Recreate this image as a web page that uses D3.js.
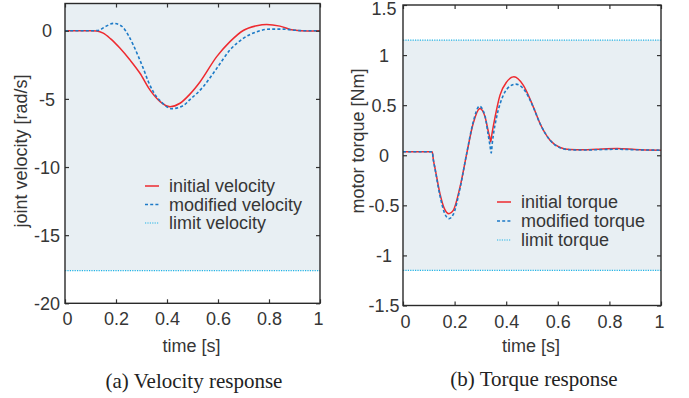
<!DOCTYPE html>
<html>
<head>
<meta charset="utf-8">
<script src="https://cdn.jsdelivr.net/npm/d3@7"></script>
<style>
  html, body { margin: 0; padding: 0; background: #fff; }
  svg { display: block; }
  .tick text { font-family: "Liberation Sans", Arial, sans-serif; font-size: 18px; fill: #363636; }
  .lbl { font-family: "Liberation Sans", Arial, sans-serif; font-size: 18px; fill: #363636; }
  .cap { font-family: "Liberation Serif", "Times New Roman", serif; font-size: 21px; fill: #222; }
</style>
</head>
<body>
<svg id="chart" width="689" height="398"></svg>
<script>
// ---- time axis (shared) ----
const timeTicks = [0, 0.2, 0.4, 0.6, 0.8, 1];

// ---- velocity response ----
const velTicks = [-20, -15, -10, -5, 0];
const velLimit = -17.6;
const velInitT = [0, 0.05, 0.10, 0.125, 0.15, 0.178, 0.216, 0.255, 0.294, 0.333, 0.373, 0.412, 0.451, 0.49, 0.53, 0.595, 0.647, 0.699, 0.752, 0.791, 0.843, 0.895, 0.95, 1.0];
const velInitV = [0, 0, 0, -0.02, -0.18, -0.58, -1.29, -2.15, -3.12, -4.34, -5.2, -5.57, -5.32, -4.65, -3.74, -1.9, -0.8, 0.02, 0.37, 0.46, 0.34, 0.05, -0.02, 0];
const velModT = [0, 0.05, 0.10, 0.13, 0.157, 0.19, 0.222, 0.248, 0.268, 0.288, 0.307, 0.327, 0.346, 0.379, 0.418, 0.464, 0.49, 0.516, 0.542, 0.595, 0.647, 0.699, 0.752, 0.804, 0.856, 0.908, 0.95, 1.0];
const velModV = [0, 0, 0, 0.02, 0.29, 0.54, 0.34, -0.32, -1.05, -1.9, -2.76, -3.74, -4.47, -5.25, -5.72, -5.49, -5.05, -4.62, -4.1, -2.76, -1.41, -0.56, -0.07, 0.12, 0.12, 0.03, 0, 0];

// ---- torque response ----
const torTicks = [-1.5, -1, -0.5, 0, 0.5, 1, 1.5];
const torTickLabels = ["-1.5", "-1", "-0.5", "0", "0.5", "1", "1.5"];
const torLimit = 1.15;
const torInitT = [0, 0.05, 0.113, 0.118, 0.125, 0.143, 0.16, 0.178, 0.195, 0.221, 0.247, 0.272, 0.298, 0.318, 0.331, 0.336, 0.340, 0.344, 0.357, 0.376, 0.402, 0.430, 0.466, 0.505, 0.531, 0.570, 0.609, 0.647, 0.70, 0.75, 0.83, 0.90, 1.0];
const torInitV = [0.035, 0.035, 0.035, -0.05, -0.14, -0.38, -0.53, -0.583, -0.55, -0.317, 0.017, 0.317, 0.467, 0.383, 0.233, 0.18, 0.133, 0.2, 0.383, 0.6, 0.733, 0.783, 0.7, 0.483, 0.317, 0.15, 0.077, 0.057, 0.055, 0.06, 0.067, 0.058, 0.05];
const torModT = [0, 0.05, 0.113, 0.118, 0.125, 0.143, 0.16, 0.178, 0.195, 0.221, 0.247, 0.272, 0.296, 0.318, 0.331, 0.337, 0.342, 0.346, 0.35, 0.363, 0.389, 0.415, 0.437, 0.466, 0.505, 0.531, 0.570, 0.609, 0.647, 0.70, 0.75, 0.83, 0.90, 1.0];
const torModV = [0.035, 0.035, 0.035, -0.05, -0.15, -0.4, -0.57, -0.633, -0.59, -0.33, 0.02, 0.33, 0.49, 0.39, 0.19, 0.1, 0.023, 0.12, 0.2, 0.383, 0.6, 0.69, 0.71, 0.667, 0.48, 0.317, 0.15, 0.075, 0.055, 0.052, 0.055, 0.06, 0.055, 0.05];

const C_INIT = "#ee2a2f", C_MOD = "#1c7ac7", C_LIM = "#22b4e6", C_BG = "#e8eff3";

const svg = d3.select("#chart");

function panel(o) {
  const x = d3.scaleLinear().domain([0, 1]).range([o.x0, o.x1]);
  const y = d3.scaleLinear().domain(o.yDomain).range([o.y1, o.y0]);
  const g = svg.append("g");

  // shaded admissible band
  g.append("rect")
    .attr("x", x(0)).attr("width", x(1) - x(0))
    .attr("y", y(o.bandTop)).attr("height", y(o.bandBottom) - y(o.bandTop))
    .attr("fill", C_BG);

  // limit lines
  o.limits.forEach(v => {
    g.append("line")
      .attr("x1", x(0)).attr("x2", x(1)).attr("y1", y(v)).attr("y2", y(v))
      .attr("stroke", C_LIM).attr("stroke-width", 1.2).attr("stroke-dasharray", "1.2,1.2");
  });

  const line = d3.line().x(d => x(d[0])).y(d => y(d[1])).curve(d3.curveMonotoneX);
  g.append("path").datum(d3.zip(o.initT, o.initV)).attr("d", line)
    .attr("fill", "none").attr("stroke", C_INIT).attr("stroke-width", 1.5);
  g.append("path").datum(d3.zip(o.modT, o.modV)).attr("d", line)
    .attr("fill", "none").attr("stroke", C_MOD).attr("stroke-width", 1.6).attr("stroke-dasharray", "3,2.2");

  // axes with inward ticks on all sides
  const ax = g.append("g").attr("transform", `translate(0,${o.y1})`)
    .call(d3.axisBottom(x).tickValues(timeTicks).tickSize(-4).tickFormat(d3.format("")));
  ax.selectAll("text").attr("y", 22).attr("dy", 0)
    .attr("dx", d => d === 0 ? 2 : (d === 1 ? -2 : 0));
  g.append("g").attr("transform", `translate(0,${o.y0})`)
    .call(d3.axisTop(x).tickValues(timeTicks).tickSize(-4).tickFormat(""));
  const ay = g.append("g").attr("transform", `translate(${o.x0},0)`)
    .call(d3.axisLeft(y).tickValues(o.yTicks).tickSize(-4).tickFormat((d, i) => o.yLabels[i]));
  ay.selectAll("text").attr("x", -o.yLabelOffset).attr("text-anchor", "middle")
    .attr("dy", d => d === o.yDomain[1] ? "0.5em" : "0.34em");
  g.append("g").attr("transform", `translate(${o.x1},0)`)
    .call(d3.axisRight(y).tickValues(o.yTicks).tickSize(-4).tickFormat(""));
  g.selectAll(".domain").remove();
  g.selectAll(".tick line").attr("stroke", "#333").attr("stroke-width", 1.2);

  // frame
  g.append("rect").attr("x", o.x0).attr("y", o.y0)
    .attr("width", o.x1 - o.x0).attr("height", o.y1 - o.y0)
    .attr("fill", "none").attr("stroke", "#2a2a2a").attr("stroke-width", 1.4);

  // axis titles
  g.append("text").attr("class", "lbl").attr("text-anchor", "middle")
    .attr("x", (o.x0 + o.x1) / 2 - 1).attr("y", 352).text("time [s]");
  g.append("text").attr("class", "lbl").attr("text-anchor", "middle")
    .attr("transform", `translate(${o.yTitleX},${o.yTitleY}) rotate(-90)`).text(o.yTitle);

  // legend
  const lg = g.append("g");
  const styles = [
    { c: C_INIT, w: 1.5, dash: null },
    { c: C_MOD, w: 1.6, dash: "3,2.2" },
    { c: C_LIM, w: 1.2, dash: "1.2,1.2" }
  ];
  o.legend.forEach((t, i) => {
    const yy = o.legY + i * o.legStep;
    lg.append("line").attr("x1", o.legX).attr("x2", o.legX + 14).attr("y1", yy).attr("y2", yy)
      .attr("stroke", styles[i].c).attr("stroke-width", styles[i].w)
      .attr("stroke-dasharray", styles[i].dash);
    lg.append("text").attr("class", "lbl").attr("x", o.legX + 24).attr("y", yy).attr("dy", "0.35em").text(t);
  });

  // caption
  svg.append("text").attr("class", "cap").attr("text-anchor", "middle")
    .attr("x", o.capX).attr("y", o.capY).text(o.caption);
}

panel({
  x0: 65, x1: 320, y0: 3.5, y1: 303.3,
  yDomain: [-20, 2], yTicks: velTicks, yLabels: velTicks.map(String), yLabelOffset: 18,
  bandTop: 2, bandBottom: velLimit, limits: [velLimit],
  initT: velInitT, initV: velInitV, modT: velModT, modV: velModV,
  yTitle: "joint velocity [rad/s]", yTitleX: 27, yTitleY: 151,
  legend: ["initial velocity", "modified velocity", "limit velocity"], legX: 145, legY: 186, legStep: 18.5,
  caption: "(a) Velocity response", capX: 194, capY: 388
});

panel({
  x0: 403, x1: 661, y0: 5, y1: 305.5,
  yDomain: [-1.5, 1.5], yTicks: torTicks, yLabels: torTickLabels, yLabelOffset: 19,
  bandTop: torLimit, bandBottom: -torLimit, limits: [torLimit, -torLimit],
  initT: torInitT, initV: torInitV, modT: torModT, modV: torModV,
  yTitle: "motor torque [Nm]", yTitleX: 364, yTitleY: 141,
  legend: ["initial torque", "modified torque", "limit torque"], legX: 497, legY: 202, legStep: 19,
  caption: "(b) Torque response", capX: 534, capY: 386
});
</script>
</body>
</html>
